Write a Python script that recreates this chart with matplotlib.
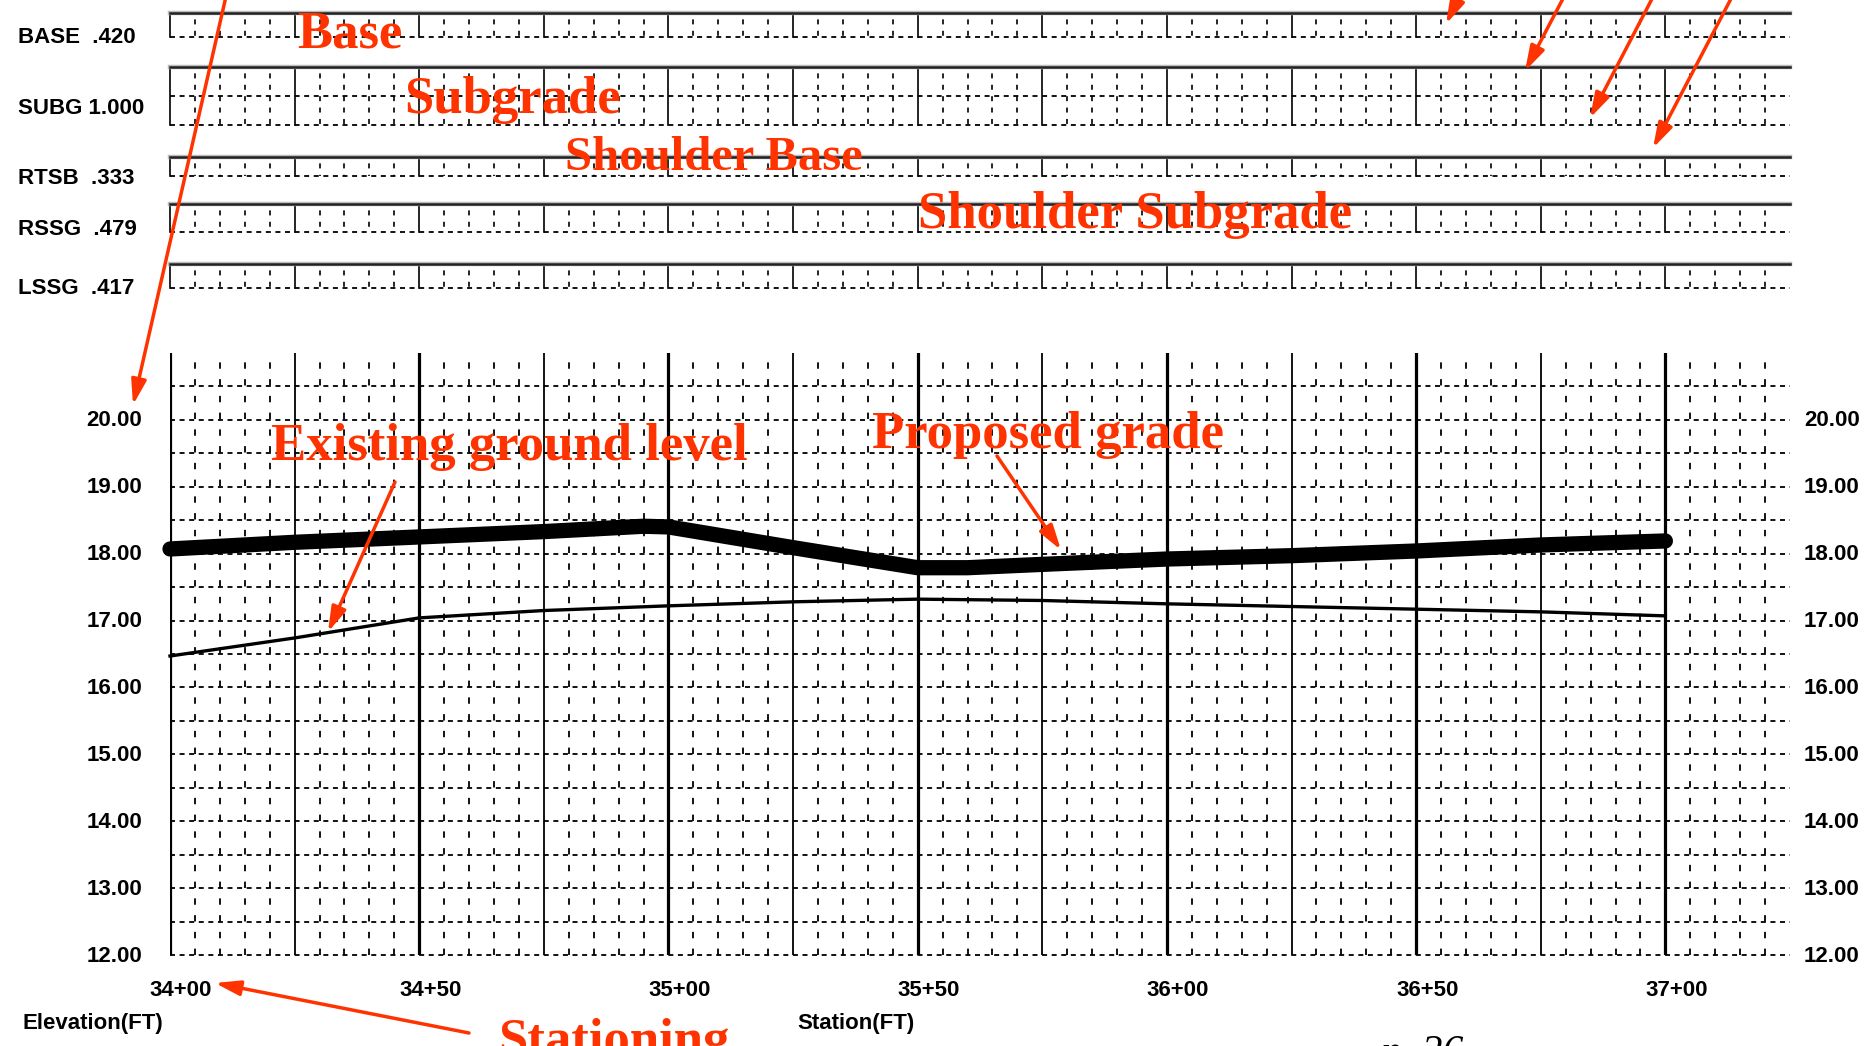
import numpy as np
import matplotlib.pyplot as plt

plt.rcParams['lines.scale_dashes'] = False

# profile data (station in ft, elevation in ft)
prop_sta = [3400, 3425, 3450, 3475, 3495, 3500, 3525, 3550, 3560, 3575, 3600, 3625, 3650, 3675, 3700]
prop_elev = [18.07, 18.17, 18.25, 18.33, 18.41, 18.40, 18.09, 17.79, 17.79, 17.84, 17.92, 17.97, 18.04, 18.13, 18.19]
ground_sta = [3400, 3425, 3450, 3475, 3500, 3525, 3550, 3575, 3600, 3625, 3650, 3675, 3700]
ground_elev = [16.47, 16.74, 17.04, 17.15, 17.22, 17.28, 17.32, 17.30, 17.25, 17.21, 17.17, 17.13, 17.07]

station_ticks = [3400, 3450, 3500, 3550, 3600, 3650, 3700]
station_labels = ['34+00', '34+50', '35+00', '35+50', '36+00', '36+50', '37+00']
elev_ticks = [12, 13, 14, 15, 16, 17, 18, 19, 20]

layer_names = ['BASE', 'SUBG', 'RTSB', 'RSSG', 'LSSG']
layer_values = [0.420, 1.000, 0.333, 0.479, 0.417]
layer_text = ['.420', '1.000', '.333', '.479', '.417']

# layout in pixels
W, H = 1865, 1046
X0, X1 = 170, 1790
STA_MIN, STA_MAX = 3400, 3725
STA_LAST = 3700
strip_tops = [13, 67, 157, 204, 264]
PX_PER_UNIT = 58
RED = '#FF3300'
LABEL_FONT = ['Liberation Sans', 'DejaVu Sans']
LABEL_SIZE = 16
NOTE_FONT = ['Liberation Serif', 'DejaVu Serif']

H_DASH = (0, (3.6, 3.3))
V_DASH = (0, (4.6, 7.46))
S_DASH = (3.6, (3.6, 4.6))


def box(x0, y0, x1, y1):
    return [x0 / W, 1 - y1 / H, (x1 - x0) / W, (y1 - y0) / H]


fig = plt.figure(figsize=(W / 100, H / 100), dpi=100)

# ---- layer strips at the top
for name, val, txt, top in zip(layer_names, layer_values, layer_text, strip_tops):
    bot = top + val * PX_PER_UNIT
    sa = fig.add_axes(box(X0, top, X1, bot))
    sa.set_xlim(STA_MIN, STA_MAX)
    sa.set_ylim(val, 0)
    sa.axis('off')
    for s in range(STA_MIN, STA_MAX, 5):
        if s % 25 == 0 and s <= STA_LAST:
            sa.plot([s, s], [0, val], color='k', lw=1.2, clip_on=False)
        else:
            sa.plot([s, s], [0, val], color='k', lw=1.2, linestyle=S_DASH, clip_on=False)
    for lev in np.arange(0.5, val, 0.5):
        sa.plot([STA_MIN, STA_MAX], [lev, lev], color='k', lw=1.3, linestyle=H_DASH, clip_on=False)
    sa.plot([STA_MIN, STA_MAX], [val, val], color='k', lw=1.3, linestyle=H_DASH, clip_on=False)
    sa.plot([STA_MIN, STA_MAX], [0, 0], color='#bbbbbb', lw=3.2, clip_on=False)
    sa.plot([STA_MIN, STA_MAX], [0, 0], color='#222222', lw=1.8, clip_on=False)
    yc = 1 - ((top + bot) / 2 + 12) / H
    fig.text(18 / W, yc, f'{name} {txt:>5}', family=LABEL_FONT, fontweight='bold',
             fontsize=LABEL_SIZE, ha='left', va='center')

# ---- main profile
ax = fig.add_axes(box(X0, 353, X1, 955))
ax.set_xlim(STA_MIN, STA_MAX)
ax.set_ylim(12, 21)
ax.axis('off')

for s in range(STA_MIN, STA_MAX, 5):
    if s % 50 == 0 and s <= STA_LAST:
        ax.plot([s, s], [12, 21], color='k', lw=2.3)
    elif s % 25 == 0 and s <= STA_LAST:
        ax.plot([s, s], [12, 21], color='k', lw=1.3)
    else:
        ax.plot([s, s], [12, 21], color='k', lw=1.3, linestyle=V_DASH)
for e in np.arange(12, 20.51, 0.5):
    ax.plot([STA_MIN, STA_MAX], [e, e], color='k', lw=1.3, linestyle=H_DASH, clip_on=False)

ax.plot(prop_sta, prop_elev, color='k', lw=11, solid_capstyle='round',
        solid_joinstyle='round', zorder=5, clip_on=False)
ax.plot(ground_sta, ground_elev, color='k', lw=2.4, zorder=5, clip_on=False)

for v in elev_ticks:
    ax.annotate(f'{v:.2f}', xy=(0, v), xycoords=ax.get_yaxis_transform(),
                xytext=(-28, -1), textcoords='offset pixels', ha='right', va='center',
                family=LABEL_FONT, fontweight='bold', fontsize=LABEL_SIZE)
    ax.annotate(f'{v:.2f}', xy=(1, v), xycoords=ax.get_yaxis_transform(),
                xytext=(14, -1), textcoords='offset pixels', ha='left', va='center',
                family=LABEL_FONT, fontweight='bold', fontsize=LABEL_SIZE)
for s, lab in zip(station_ticks, station_labels):
    ax.annotate(lab, xy=(s, 12), xytext=(11, -35), textcoords='offset pixels',
                ha='center', va='center', family=LABEL_FONT, fontweight='bold', fontsize=LABEL_SIZE)

# ---- overlay for axis titles and red notes
ov = fig.add_axes([0, 0, 1, 1], zorder=10)
ov.set_xlim(0, W)
ov.set_ylim(H, 0)
ov.axis('off')
ov.patch.set_alpha(0)

ov.text(22, 1024, 'Elevation(FT)', family=LABEL_FONT, fontweight='bold', fontsize=LABEL_SIZE, ha='left', va='center')
ov.text(797, 1024, 'Station(FT)', family=LABEL_FONT, fontweight='bold', fontsize=LABEL_SIZE, ha='left', va='center')

notes = [
    ('Base', 297, 48, 38),
    ('Subgrade', 404, 113, 38),
    ('Shoulder Base', 565, 170, 35),
    ('Shoulder Subgrade', 918, 228, 38),
    ('Existing ground level', 271, 460, 38),
    ('Proposed grade', 872, 448, 38),
    ('Stationing', 498, 1055, 38),
]
for txt, x, y, fs in notes:
    ov.text(x, y, txt, color=RED, family=NOTE_FONT, fontweight='bold', fontsize=fs,
            ha='left', va='baseline', clip_on=False)

ov.text(1380, 1064, 'p. 26', family=NOTE_FONT, fontstyle='italic', fontsize=30,
        ha='left', va='baseline', clip_on=False)

arrows = [
    ((232, -30), (133, 405)),
    ((1472, -30), (1446, 24)),
    ((1578, -30), (1525, 71)),
    ((1667, -30), (1590, 118)),
    ((1746, -30), (1653, 148)),
    ((395, 482), (328, 632)),
    ((997, 456), (1061, 550)),
    ((469, 1033), (215, 983)),
]
for tail, tip in arrows:
    ov.annotate('', xy=tip, xytext=tail, annotation_clip=False,
                arrowprops=dict(arrowstyle='-|>,head_length=1.5,head_width=0.45',
                                color=RED, lw=2.5, shrinkA=0, shrinkB=0, mutation_scale=10))

fig.savefig('out.png', dpi=100)
